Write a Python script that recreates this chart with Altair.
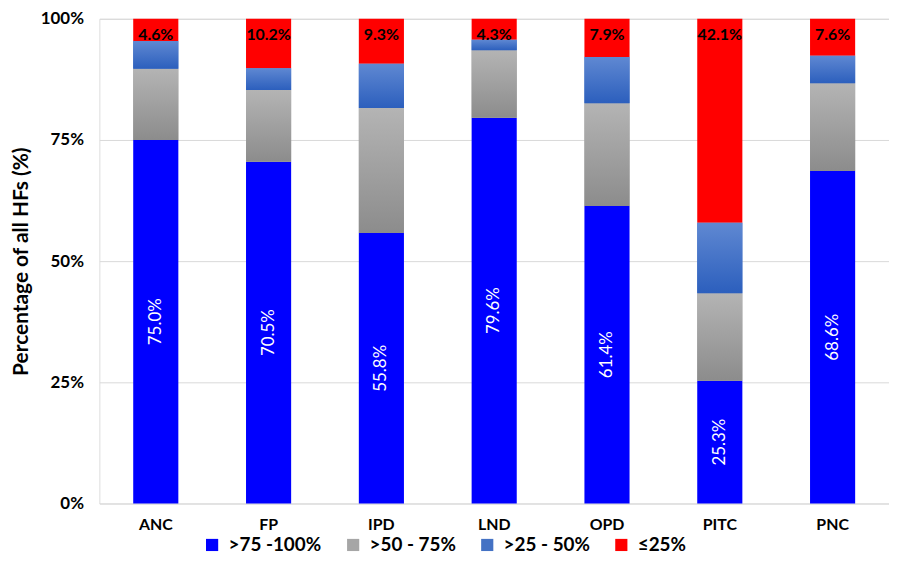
import altair as alt
import pandas as pd

cats = ["ANC", "FP", "IPD", "LND", "OPD", "PITC", "PNC"]
series = [">75 -100%", ">50 - 75%", ">25 - 50%", "≤25%"]
high = [75.0, 70.5, 55.8, 79.6, 61.4, 25.3, 68.6]
mid = [14.7, 14.8, 25.8, 13.9, 21.2, 18.1, 18.1]
low = [5.7, 4.5, 9.1, 2.2, 9.5, 14.5, 5.7]
vlow = [4.6, 10.2, 9.3, 4.3, 7.9, 42.1, 7.6]
colors = ["#0000ff", "#a6a6a6", "#4472c4", "#ff0000"]

rows = []
for i, c in enumerate(cats):
    for j, (s, vals) in enumerate(zip(series, [high, mid, low, vlow])):
        rows.append({"cat": c, "series": s, "order": j, "value": vals[i]})
df = pd.DataFrame(rows)

FONT = "Lato"

base = alt.Chart(df).transform_stack(
    stack="value", groupby=["cat"], as_=["y0", "y1"],
    sort=[alt.SortField("order", order="ascending")]
)

x = alt.X("cat:N", sort=cats, title=None,
          scale=alt.Scale(paddingInner=0.6, paddingOuter=0.3),
          axis=alt.Axis(labelAngle=0, labelFontSize=16, labelFontWeight="bold",
                        labelColor="#000", ticks=False, domain=False, labelPadding=13,
                        labelFont=FONT))
y = alt.Y("y1:Q", title="Percentage of all HFs (%)",
          scale=alt.Scale(domain=[0, 100], nice=False),
          axis=alt.Axis(values=[0, 25, 50, 75, 100], labelExpr="datum.value + '%'",
                        labelFontSize=17, labelFontWeight="bold", labelColor="#000",
                        titleFontSize=21, titleFontWeight="bold", titleColor="#000",
                        ticks=False, domain=False, gridColor="#d9d9d9", labelPadding=16,
                        titlePadding=9, labelFont=FONT, titleFont=FONT))

bars = base.mark_bar().encode(
    x=x, y=y, y2="y0:Q",
    color=alt.Color("series:N", sort=series,
                    scale=alt.Scale(domain=series, range=colors),
                    legend=alt.Legend(orient="none", direction="horizontal", title=None,
                                      legendX=104, legendY=520,
                                      symbolType="square", symbolSize=150,
                                      columnPadding=22, symbolStrokeWidth=0,
                                      labelOffset=7)),
)

gray_grad = alt.Gradient(gradient="linear", x1=0, x2=0, y1=0, y2=1,
                         stops=[alt.GradientStop(color="#b4b4b4", offset=0),
                                alt.GradientStop(color="#8c8c8c", offset=1)])
blue_grad = alt.Gradient(gradient="linear", x1=0, x2=0, y1=0, y2=1,
                         stops=[alt.GradientStop(color="#5f88d2", offset=0),
                                alt.GradientStop(color="#2c5fbd", offset=1)])

gray_layer = base.transform_filter(alt.datum.order == 1).mark_bar(color=gray_grad).encode(
    x=alt.X("cat:N", sort=cats), y="y1:Q", y2="y0:Q")
blue_layer = base.transform_filter(alt.datum.order == 2).mark_bar(color=blue_grad).encode(
    x=alt.X("cat:N", sort=cats), y="y1:Q", y2="y0:Q")

high_text = base.transform_filter(alt.datum.order == 0).transform_calculate(
    mid="(datum.y0 + datum.y1) / 2",
    lab="format(datum.value, '.1f') + '%'"
).mark_text(angle=270, color="white", fontSize=17, font=FONT, baseline="middle",
            align="center").encode(
    x=alt.X("cat:N", sort=cats), y="mid:Q", text="lab:N")

red_text = base.transform_filter(alt.datum.order == 3).transform_calculate(
    lab="format(datum.value, '.1f') + '%'"
).mark_text(color="black", fontSize=16, fontWeight="bold", font=FONT, baseline="middle",
            align="center", dy=16).encode(
    x=alt.X("cat:N", sort=cats), y="y1:Q", text="lab:N")

chart = alt.layer(bars, gray_layer, blue_layer, high_text, red_text).properties(
    width=795, height=488,
    padding={"left": 2, "top": 0, "right": 0, "bottom": 0},
).configure_view(stroke=None).configure(font=FONT).configure_legend(
    labelFontSize=19, labelFontWeight="bold", labelColor="#000", labelFont=FONT
)

chart.save("out.html", embed_options={"renderer": "svg", "actions": False})
